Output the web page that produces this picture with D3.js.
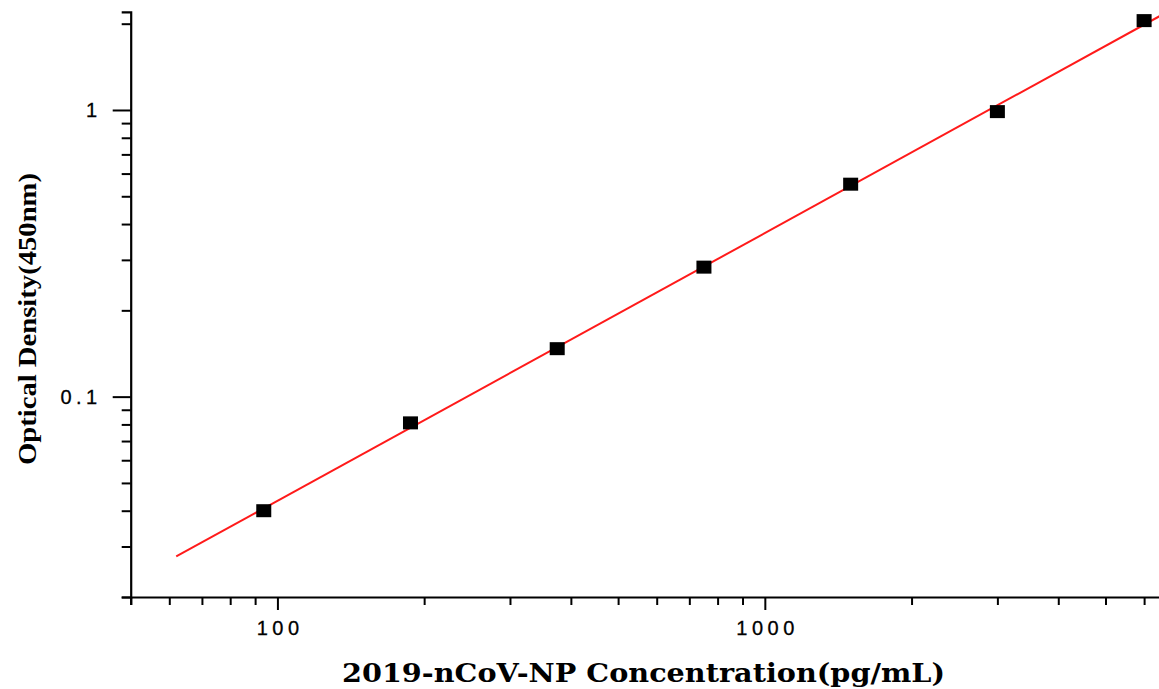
<!DOCTYPE html>
<html lang="en">
<head>
    <meta charset="UTF-8">
    <title>2019-nCoV-NP Standard Curve</title>
    <script src="https://d3js.org/d3.v7.min.js"></script>
    <style>
        body { margin: 0; background: #fff; }
        svg { display: block; }
        .tick text { font-family: "Liberation Sans", Arial, sans-serif; font-size: 20px; letter-spacing: 4.5px; fill: #000; stroke: #000; stroke-width: 0.3px; }
        .axis-title { font-weight: bold; fill: #000; }
    </style>
</head>
<body>
<script>
// standard curve data
const concentrations = [93.75, 187.5, 375, 750, 1500, 3000, 6000];
const opticalDensity = [0.040, 0.081, 0.147, 0.283, 0.551, 0.987, 2.05];
const xDomain = [50, 7000];
const yDomain = [0.02, 2.2];
const fitFrom = 62;

const width = 1159, height = 689;
const left = 130.7, bottom = 597;
const decadeX = 487.8, decadeY = 286.7;

// range built so that 100 -> 276.7 and 1 -> 110
const x = d3.scaleLog()
    .domain(xDomain)
    .range([left, 276.7 + Math.log10(xDomain[1] / 100) * decadeX]);
const y = d3.scaleLog()
    .domain(yDomain)
    .range([bottom, 110 - Math.log10(yDomain[1]) * decadeY]);

const svg = d3.select("body").append("svg")
    .attr("width", width)
    .attr("height", height);

const isMajor = v => Math.abs(Math.log10(v) - Math.round(Math.log10(v))) < 1e-9;

// x axis
const xAxis = svg.append("g")
    .attr("transform", `translate(0,${bottom})`)
    .call(d3.axisBottom(x)
        .tickValues(x.ticks())
        .tickSize(8)
        .tickPadding(4)
        .tickFormat(d => isMajor(d) ? d3.format("d")(d) : ""));
xAxis.select(".domain").attr("stroke-width", 2.2);
xAxis.selectAll(".tick line").attr("stroke-width", 2)
    .attr("y2", d => isMajor(d) ? 13 : 8);
xAxis.selectAll(".tick text").attr("y", 24).attr("dy", "0.71em").attr("dx", 2.2);

// y axis
const yAxis = svg.append("g")
    .attr("transform", `translate(${left},0)`)
    .call(d3.axisLeft(y)
        .tickValues(y.ticks())
        .tickSize(9)
        .tickFormat(d => isMajor(d) ? (d >= 1 ? "1" : "0.1") : ""));
yAxis.select(".domain").attr("stroke-width", 2.2);
yAxis.selectAll(".tick line").attr("stroke-width", 2)
    .attr("x2", d => isMajor(d) ? -18 : -9);
yAxis.selectAll(".tick text").attr("x", -29);

// least squares fit in log-log space
const lx = concentrations.map(Math.log10);
const ly = opticalDensity.map(Math.log10);
const mx = d3.mean(lx), my = d3.mean(ly);
const slope = d3.sum(lx, (v, i) => (v - mx) * (ly[i] - my)) / d3.sum(lx, v => (v - mx) ** 2);
const icpt = my - slope * mx;
const fitX = [fitFrom, xDomain[1]];

svg.append("path")
    .datum(fitX)
    .attr("fill", "none")
    .attr("stroke", "#ff1a1a")
    .attr("stroke-width", 2)
    .attr("d", d3.line()
        .x(d => x(d))
        .y(d => y(Math.pow(10, icpt + slope * Math.log10(d)))));

// points
svg.append("g")
    .selectAll("rect")
    .data(concentrations)
    .join("rect")
    .attr("x", d => x(d) - 7.5)
    .attr("y", (d, i) => y(opticalDensity[i]) - 6.5)
    .attr("width", 15)
    .attr("height", 13)
    .attr("fill", "#000");

// axis titles
svg.append("text")
    .attr("class", "axis-title")
    .attr("x", 342)
    .attr("y", 682)
    .attr("font-family", "'DejaVu Serif', serif")
    .attr("font-size", 26)
    .attr("textLength", 603)
    .attr("lengthAdjust", "spacingAndGlyphs")
    .text("2019-nCoV-NP Concentration(pg/mL)");

svg.append("text")
    .attr("class", "axis-title")
    .attr("transform", "translate(36,465) rotate(-90)")
    .attr("font-family", "'Liberation Serif', 'Times New Roman', serif")
    .attr("font-size", 26)
    .attr("textLength", 292)
    .attr("lengthAdjust", "spacingAndGlyphs")
    .text("Optical Density(450nm)");
</script>
</body>
</html>
